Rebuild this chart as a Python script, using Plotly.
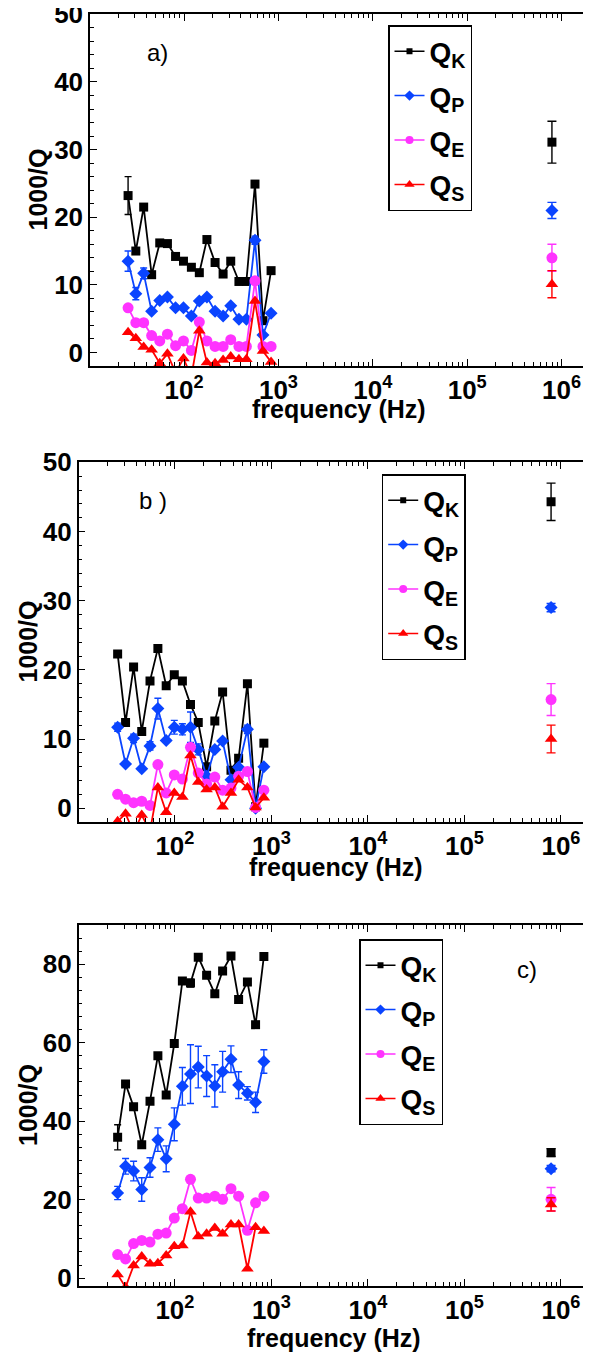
import plotly.graph_objects as go

# The page body keeps the browser's default 8 px margin, so the figure is
# sized to fill the rest of the 591 x 1356 window.
PAGE_W, PAGE_H, BODY_MARGIN = 591, 1356, 8
W, H = PAGE_W - BODY_MARGIN, PAGE_H - BODY_MARGIN
FONT = "Liberation Sans, Arial, Helvetica, sans-serif"

# ---------------- data ----------------
freq = [25.5, 30.8, 37.3, 45.3, 55.2, 66.6, 81.2, 98.5, 119.5, 145.0,
        174.5, 213.0, 259.0, 312.0, 381.0, 457.0, 564.0, 685.0, 835.0]
f_hi = 7.9e5

series_names = ["Q<sub>K</sub>", "Q<sub>P</sub>", "Q<sub>E</sub>", "Q<sub>S</sub>"]
panel_labels = ["a)", "b )", "c)"]
x_tickvals = [1e2, 1e3, 1e4, 1e5, 1e6]

# panel a
qk_a = [23.2, 15.0, 21.5, 11.5, 16.2, 16.1, 14.2, 13.5, 12.6, 11.8, 16.7, 13.3, 11.6, 13.5, 10.5, 10.5, 24.9, 4.7, 12.1]
qp_a = [13.5, 8.7, 11.7, 6.1, 7.7, 8.2, 6.6, 6.6, 5.4, 7.6, 8.2, 6.1, 5.4, 6.9, 4.9, 4.9, 16.6, 2.6, 5.8]
qe_a = [6.6, 4.4, 4.4, 2.5, 1.7, 2.7, 1.0, 1.7, 0.3, 4.5, 1.7, 0.9, 0.9, 1.9, 0.9, 0.9, 10.6, 0.9, 0.9]
qs_a = [3.0, 2.1, 0.8, 0.4, -1.6, -0.2, -3.0, -0.9, -3.5, 3.2, -1.5, -1.6, -1.1, -0.6, -1.0, -1.0, 7.6, 0.2, -1.4]
qk_a_err = [2.8, 0, 0, 0, 0, 0, 0, 0, 0, 0, 0, 0, 0, 0, 0, 0, 0, 0, 0]
qp_a_err = [1.5, 0.9, 0.8, 0, 0, 0, 0, 0, 0, 0, 0, 0, 0, 0, 0, 0, 0.6, 0, 0]
qe_a_err = [0] * 19
qs_a_err = [0] * 19
hi_a = [31.1, 21.0, 14.0, 10.1]
hi_a_err = [3.1, 1.2, 2.0, 2.0]

# panel b
qk_b = [22.3, 12.4, 20.4, 11.1, 18.4, 23.1, 17.7, 19.3, 18.4, 15.0, 12.4, 6.0, 12.6, 16.8, 5.5, 7.2, 18.0, 0.2, 9.4]
qp_b = [11.7, 6.4, 10.1, 5.7, 9.0, 14.4, 9.8, 11.7, 11.4, 11.7, 8.5, 4.6, 8.5, 9.7, 4.1, 5.9, 11.4, 0.0, 6.0]
qe_b = [2.0, 1.3, 0.8, 1.0, 0.4, 6.3, 2.2, 4.8, 4.2, 8.8, 5.1, 3.5, 4.5, 2.6, 2.9, 4.6, 5.3, 0.1, 2.6]
qs_b = [-1.9, -0.8, -3.5, -1.0, -3.3, 3.0, -0.6, 2.2, 1.6, 7.6, 3.8, 2.7, 3.0, 0.2, 2.2, 4.1, 3.0, 0.1, 1.5]
qk_b_err = [0] * 19
qp_b_err = [0.6, 0, 0.6, 0, 0.6, 1.5, 0, 1.0, 0.8, 2.2, 0.8, 0, 0, 0, 0, 0, 0.6, 0, 0]
qe_b_err = [0] * 19
qs_b_err = [0] * 19
hi_b = [44.3, 29.0, 15.7, 10.0]
hi_b_err = [2.7, 0.6, 2.3, 2.0]

# panel c
qk_c = [35.9, 49.5, 43.7, 34.0, 45.1, 56.7, 46.7, 59.8, 75.7, 75.2, 81.8, 77.2, 72.5, 78.3, 82.1, 71.0, 75.5, 64.6, 82.0]
qp_c = [21.7, 28.5, 27.3, 22.6, 28.2, 35.3, 30.4, 39.2, 48.9, 52.0, 53.8, 51.5, 49.0, 52.6, 55.8, 49.2, 47.1, 44.8, 55.2]
qe_c = [6.0, 4.9, 8.8, 9.6, 9.2, 11.2, 11.5, 15.3, 17.7, 25.2, 20.4, 20.4, 20.9, 20.1, 22.8, 20.9, 12.2, 19.2, 20.9]
qs_c = [0.9, -2.3, 3.2, 5.5, 3.7, 3.8, 5.8, 8.1, 8.3, 16.9, 10.6, 11.3, 12.8, 11.3, 13.7, 13.7, 2.4, 13.0, 12.0]
qk_c_err = [3.2, 0, 0, 0, 0, 0, 0, 0, 0, 1.0, 0, 0, 0, 0, 0, 0, 0, 0, 0]
qp_c_err = [1.7, 2.0, 2.5, 3.0, 2.5, 3.0, 3.3, 4.2, 4.8, 7.5, 5.3, 5.2, 5.4, 5.2, 3.4, 3.4, 1.7, 2.6, 3.0]
qe_c_err = [0] * 19
qs_c_err = [0] * 19
hi_c = [32.0, 27.9, 20.1, 18.8]
hi_c_err = [1.0, 0.8, 3.0, 1.7]

# ---------------- styles ----------------
colors = ["#000000", "#0a44ff", "#ff33ff", "#ff0000"]
symbols = ["square", "diamond", "circle", "triangle-up"]
msizes = [9, 10, 11, 11]
leg_msizes = [6, 8, 8, 9]


def px_x(x):
    return (x - BODY_MARGIN) / W


def px_y(y):
    return 1 - (y - BODY_MARGIN) / H


panels = [
    dict(vals=[qk_a, qp_a, qe_a, qs_a], errs=[qk_a_err, qp_a_err, qe_a_err, qs_a_err],
         hi=hi_a, hi_err=hi_a_err, box=(90, 590, 14, 366), yr=[-2, 50.05], dt=10, mdt=2,
         leg=(388, 25), lab=(157, 53), ytit=37.5, xtit=(339, 409)),
    dict(vals=[qk_b, qp_b, qe_b, qs_b], errs=[qk_b_err, qp_b_err, qe_b_err, qs_b_err],
         hi=hi_b, hi_err=hi_b_err, box=(78.7, 590, 462, 822), yr=[-2, 50.05], dt=10, mdt=2,
         leg=(381.7, 474), lab=(153, 500), ytit=27.5, xtit=(336, 867)),
    dict(vals=[qk_c, qp_c, qe_c, qs_c], errs=[qk_c_err, qp_c_err, qe_c_err, qs_c_err],
         hi=hi_c, hi_err=hi_c_err, box=(78.7, 590, 925, 1286), yr=[-2, 90], dt=20, mdt=20 / 6,
         leg=(359, 939), lab=(527, 969), ytit=27.5, xtit=(334, 1338)),
]

fig = go.Figure()
layout = dict(width=W, height=H, margin=dict(l=0, r=0, t=0, b=0),
              paper_bgcolor="white", plot_bgcolor="white", showlegend=True,
              annotations=[])

tickfont = dict(family=FONT, size=26, color="black", weight="bold")

for i, p in enumerate(panels, start=1):
    xr = "x" if i == 1 else f"x{i}"
    yr = "y" if i == 1 else f"y{i}"
    legkey = "legend" if i == 1 else f"legend{i}"
    x0, x1, y0, y1 = p["box"]
    for s in range(4):
        fig.add_trace(go.Scatter(
            x=freq, y=p["vals"][s], mode="lines+markers",
            line=dict(color=colors[s], width=1.8),
            marker=dict(symbol=symbols[s], size=msizes[s], color=colors[s]),
            error_y=dict(type="data", array=p["errs"][s], color=colors[s],
                         thickness=1.4, width=3.5),
            xaxis=xr, yaxis=yr, showlegend=False, hoverinfo="skip"))
        fig.add_trace(go.Scatter(
            x=[f_hi], y=[p["hi"][s]], mode="markers",
            marker=dict(symbol=symbols[s], size=msizes[s], color=colors[s]),
            error_y=dict(type="data", array=[p["hi_err"][s]], color=colors[s],
                         thickness=1.4, width=4.5),
            xaxis=xr, yaxis=yr, showlegend=False, hoverinfo="skip"))
    for s in range(4):
        fig.add_trace(go.Scatter(
            x=[None], y=[None], mode="lines+markers", name=series_names[s],
            line=dict(color=colors[s], width=1.5),
            marker=dict(symbol=symbols[s], size=leg_msizes[s], color=colors[s]),
            xaxis=xr, yaxis=yr, legend=legkey, legendgroup=f"{i}-{s}",
            showlegend=True))

    layout["xaxis" if i == 1 else f"xaxis{i}"] = dict(
        type="log", range=[1.003, 6.301], tickmode="array", tickvals=x_tickvals,
        ticktext=["10<sup>%d</sup>" % k for k in range(2, 7)],
        ticks="inside", ticklen=7, tickwidth=1.2, tickcolor="black",
        showline=True, linecolor="black", linewidth=1.5, mirror="ticks",
        showgrid=False, zeroline=False, tickfont=tickfont, automargin=False,
        ticklabeloverflow="allow",
        minor=dict(ticks="inside", ticklen=4, tickwidth=1, tickcolor="black",
                   showgrid=False, tickvals=[m * 10 ** d for d in range(1, 7) for m in range(2, 10)]),
        domain=[px_x(x0), min(1.0, px_x(x1))], anchor=yr)
    layout["yaxis" if i == 1 else f"yaxis{i}"] = dict(
        range=p["yr"], dtick=p["dt"], tick0=0,
        ticks="inside", ticklen=7, tickwidth=1.2, tickcolor="black",
        showline=True, linecolor="black", linewidth=1.5, mirror="ticks",
        showgrid=False, zeroline=False, tickfont=tickfont, automargin=False,
        ticklabeloverflow="allow",
        minor=dict(ticks="inside", ticklen=4, tickwidth=1, tickcolor="black",
                   showgrid=False, dtick=p["mdt"], tick0=0),
        domain=[px_y(y1), px_y(y0)], anchor=xr)
    layout[legkey] = dict(
        x=px_x(p["leg"][0]), y=px_y(p["leg"][1]), xanchor="left", yanchor="top",
        bgcolor="white", bordercolor="black", borderwidth=1.5,
        font=dict(family=FONT, size=28, color="black", weight="bold"),
        traceorder="grouped", tracegroupgap=5, itemwidth=30)
    layout["annotations"] += [
        dict(text=panel_labels[i - 1], x=px_x(p["lab"][0]), y=px_y(p["lab"][1]),
             xref="paper", yref="paper", showarrow=False, xanchor="center", yanchor="middle",
             font=dict(family=FONT, size=24, color="black")),
        dict(text="1000/Q", x=px_x(p["ytit"]), y=px_y((y0 + y1) / 2), textangle=-90,
             xref="paper", yref="paper", showarrow=False, xanchor="center", yanchor="middle",
             font=dict(family=FONT, size=25, color="black", weight="bold")),
        dict(text="frequency (Hz)", x=px_x(p["xtit"][0]), y=px_y(p["xtit"][1]),
             xref="paper", yref="paper", showarrow=False, xanchor="center", yanchor="middle",
             font=dict(family=FONT, size=25, color="black", weight="bold")),
    ]

fig.update_layout(**layout)
fig.write_html("out.html")
